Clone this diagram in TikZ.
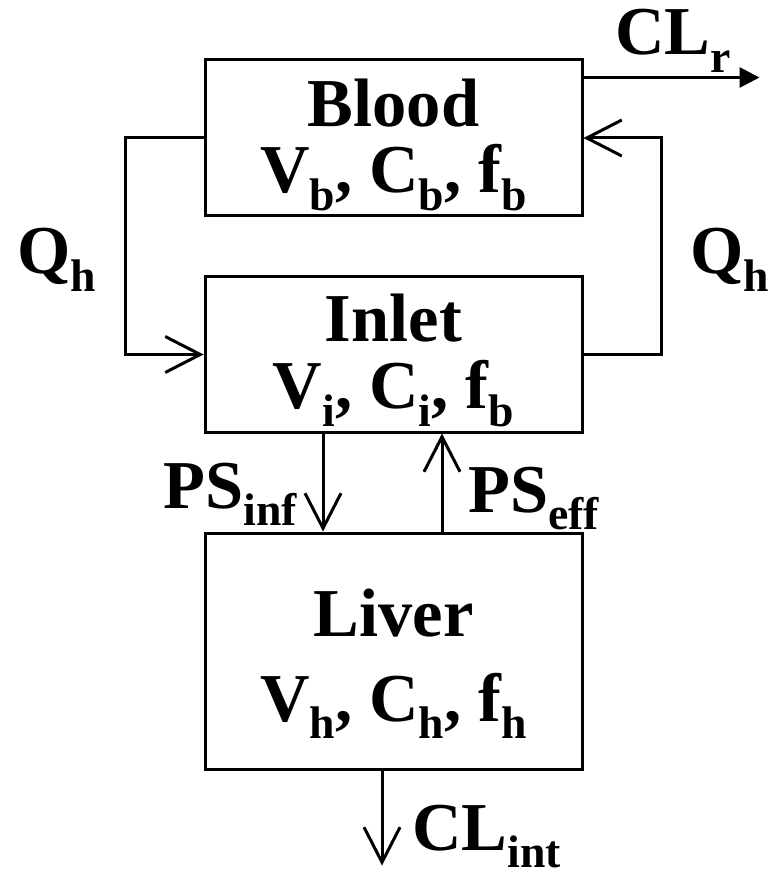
\documentclass[tikz,border=0pt]{standalone}
\usepackage{fontspec}
\setmainfont{Liberation Serif}
\usepackage{tikz}
\usetikzlibrary{positioning, arrows.meta, calc}

\newcommand{\bigfont}{\fontsize{39}{38}\selectfont\bfseries}
\newcommand{\lo}[1]{\raisebox{-10pt}{\fontsize{26}{26}\selectfont #1}}

\tikzset{
  compbox/.style={draw, line width=0.06cm, minimum width=7.54cm, align=center,
    inner sep=0pt, font=\bigfont, text depth=0.4cm},
  flow/.style={line width=0.06cm, -{Straight Barb[length=0.7cm, width=0.72cm]}},
  lbl/.style={inner sep=0pt, font=\bigfont}
}

\begin{document}
\begin{tikzpicture}
  \useasboundingbox (0,0) rectangle (15.4,-17.56);
  % compartments
  \node[compbox, minimum height=3.12cm, text height=2.6cm] (blood) at (7.87,-2.76)
    {Blood\\V\lo{b}, C\lo{b}, f\lo{b}};
  \node[compbox, minimum height=3.1cm, text height=2.56cm, below=1.16cm of blood] (inlet)
    {Inlet\\V\lo{i}, C\lo{i}, f\lo{b}};
  \node[compbox, minimum height=4.72cm, text height=3.2cm, below=1.96cm of inlet] (liver)
    {Liver\\[10pt]V\lo{h}, C\lo{h}, f\lo{h}};
  % blood flow loop
  \draw[flow] (blood.west) -- ++(-1.56,0) |- (inlet.west);
  \draw[flow] (inlet.east) -- ++(1.56,0) |- (blood.east);
  \node[lbl, anchor=base west] (qleft) at (0.34,-5.48) {Q\lo{h}};
  \node[lbl, anchor=base west] (qright) at (13.8,-5.48) {Q\lo{h}};
  % exchange with liver
  \draw[flow] ([xshift=-1.41cm]inlet.south) -- ([xshift=-1.41cm]liver.north);
  \draw[flow] ([xshift=0.97cm]liver.north) -- ([xshift=0.97cm]inlet.south);
  \node[lbl, anchor=base east] (psinf) at (5.94,-10.16) {PS\lo{inf}};
  \node[lbl, anchor=base west] (pseff) at (9.36,-10.24) {PS\lo{eff}};
  % clearances
  \coordinate (clrend) at ($(blood.north east)+(3.52,-0.38)$);
  \draw[line width=0.06cm, -{Triangle[length=0.4cm, width=0.4cm]}]
    ([yshift=-0.38cm]blood.north east) -- (clrend);
  \node[lbl, anchor=base west] (clr) at (12.3,-1.1) {CL\lo{r}};
  \coordinate (clintend) at ($(liver.south)+(-0.23,-1.9)$);
  \draw[flow] ([xshift=-0.23cm]liver.south) -- (clintend);
  \node[lbl, anchor=base west] (clint) at (8.24,-17.0) {CL\lo{int}};
\end{tikzpicture}
\end{document}
